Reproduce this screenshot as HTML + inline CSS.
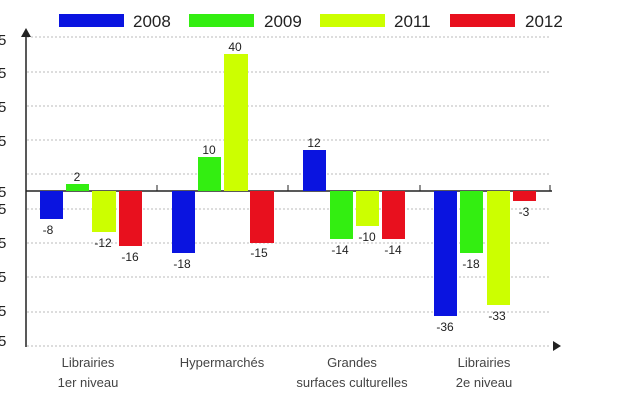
<!DOCTYPE html><html><head><style>body{margin:0;background:#fff}svg{display:block}</style></head><body>
<svg width="644" height="414" xmlns="http://www.w3.org/2000/svg" font-family="Liberation Sans, sans-serif">
<g stroke="#bbb" stroke-dasharray="2,2" stroke-width="1">
<line x1="27" x2="550" y1="37" y2="37"/><line x1="27" x2="550" y1="72" y2="72"/><line x1="27" x2="550" y1="106" y2="106"/><line x1="27" x2="550" y1="140" y2="140"/><line x1="27" x2="550" y1="174" y2="174"/><line x1="27" x2="550" y1="209" y2="209"/><line x1="27" x2="550" y1="243" y2="243"/><line x1="27" x2="550" y1="277" y2="277"/><line x1="27" x2="550" y1="312" y2="312"/><line x1="27" x2="550" y1="346" y2="346"/>
</g>
<g font-size="15" fill="#222"><text x="-2" y="45">5</text><text x="-2" y="78">5</text><text x="-2" y="112">5</text><text x="-2" y="146">5</text><text x="-2" y="197">5</text><text x="-2" y="214">5</text><text x="-2" y="248">5</text><text x="-2" y="282">5</text><text x="-2" y="316">5</text><text x="-2" y="346">5</text></g>
<line x1="26" y1="36" x2="26" y2="347" stroke="#222" stroke-width="1.5"/>
<polygon points="26,28 21,37 31,37" fill="#222"/>
<line x1="26" y1="191" x2="552" y2="191" stroke="#222" stroke-width="1.5"/>
<polygon points="561,346 553,341 553,351" fill="#222"/>
<g stroke="#222"><line x1="157" y1="185" x2="157" y2="191"/><line x1="288" y1="185" x2="288" y2="191"/><line x1="420" y1="185" x2="420" y2="191"/><line x1="550" y1="185" x2="550" y2="191"/></g>
<g>
<rect x="40" y="191" width="23" height="28" fill="#0a14e0"/><rect x="66" y="184" width="23" height="7" fill="#33ee11"/><rect x="92" y="191" width="24" height="41" fill="#ccff00"/><rect x="119" y="191" width="23" height="55" fill="#e8101e"/>
<rect x="172" y="191" width="23" height="62" fill="#0a14e0"/><rect x="198" y="157" width="23" height="34" fill="#33ee11"/><rect x="224" y="54" width="24" height="137" fill="#ccff00"/><rect x="250" y="191" width="24" height="52" fill="#e8101e"/>
<rect x="303" y="150" width="23" height="41" fill="#0a14e0"/><rect x="330" y="191" width="23" height="48" fill="#33ee11"/><rect x="356" y="191" width="23" height="35" fill="#ccff00"/><rect x="382" y="191" width="23" height="48" fill="#e8101e"/>
<rect x="434" y="191" width="23" height="125" fill="#0a14e0"/><rect x="460" y="191" width="23" height="62" fill="#33ee11"/><rect x="487" y="191" width="23" height="114" fill="#ccff00"/><rect x="513" y="191" width="23" height="10" fill="#e8101e"/>
</g>
<g font-size="12" fill="#222" text-anchor="middle" font-family="Liberation Sans Narrow, Liberation Sans, sans-serif">
<text x="48" y="234">-8</text><text x="77" y="181">2</text><text x="103" y="247">-12</text><text x="130" y="261">-16</text>
<text x="182" y="268">-18</text><text x="209" y="154">10</text><text x="235" y="51">40</text><text x="259" y="257">-15</text>
<text x="314" y="147">12</text><text x="340" y="254">-14</text><text x="367" y="241">-10</text><text x="393" y="254">-14</text>
<text x="445" y="331">-36</text><text x="471" y="268">-18</text><text x="497" y="320">-33</text><text x="524" y="216">-3</text>
</g>
<g font-size="13" fill="#444" text-anchor="middle">
<text x="88" y="367">Librairies</text><text x="88" y="387">1er niveau</text>
<text x="222" y="367">Hypermarchés</text>
<text x="352" y="367">Grandes</text><text x="352" y="387">surfaces culturelles</text>
<text x="484" y="367">Librairies</text><text x="484" y="387">2e niveau</text>
</g>
<rect x="59" y="14" width="65" height="13" fill="#0a14e0"/><rect x="189" y="14" width="65" height="13" fill="#33ee11"/><rect x="320" y="14" width="65" height="13" fill="#ccff00"/><rect x="450" y="14" width="65" height="13" fill="#e8101e"/>
<g font-size="17" fill="#222"><text x="133" y="27">2008</text><text x="264" y="27">2009</text><text x="394" y="27">2011</text><text x="525" y="27">2012</text></g>
</svg></body></html>
